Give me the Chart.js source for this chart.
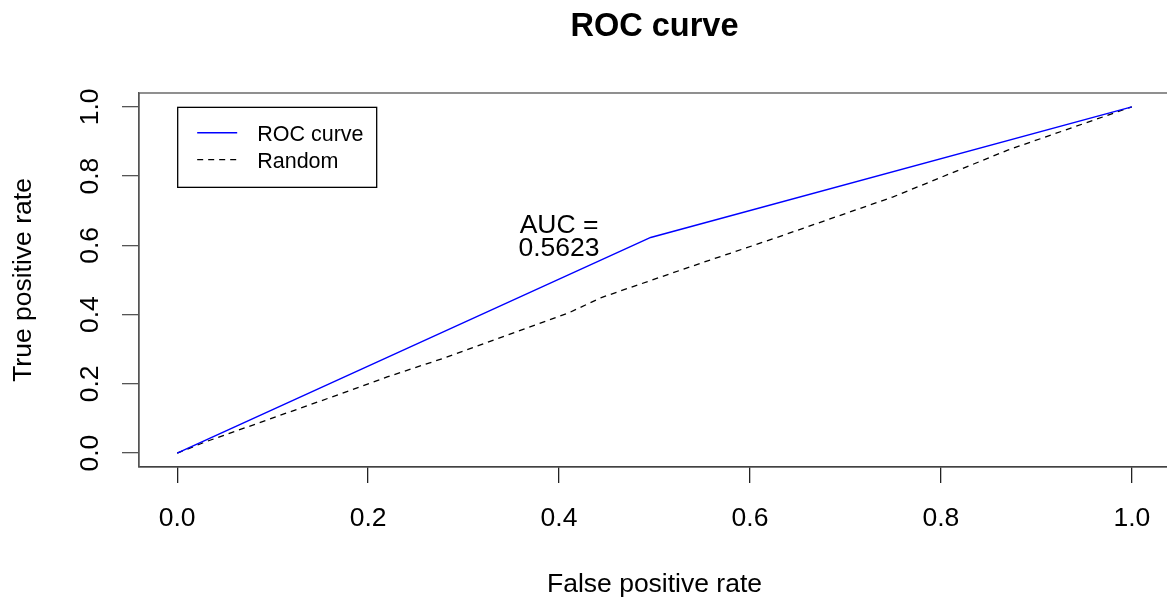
<!DOCTYPE html>
<html>
<head>
<meta charset="utf-8">
<script src="https://cdn.jsdelivr.net/npm/chart.js@4.4.1/dist/chart.umd.min.js"></script>
<style>
html,body{margin:0;padding:0;background:#fff;overflow:hidden;}
#wrap{width:1175px;height:601px;}
</style>
</head>
<body>
<div id="wrap"><canvas id="c" width="1175" height="601"></canvas></div>
<script>
// ---- data ----
const rocFpr = [0, 0.496, 1];
const rocTpr = [0, 0.623, 1];
const randFpr = [0, 0.03, 0.17, 0.22, 0.28, 0.41, 0.445, 0.55, 0.62, 0.75, 0.87, 1];
const randTpr = [0, 0.033, 0.17, 0.22, 0.275, 0.405, 0.45, 0.55, 0.615, 0.74, 0.875, 1];
const tickValues = [0, 0.2, 0.4, 0.6, 0.8, 1.0];
const aucLines = ['AUC =', '0.5623'];
const aucPos = [0.4, 0.6];
const seriesLabels = ['ROC curve', 'Random'];

const FONT = '"Liberation Sans", Arial, Helvetica, sans-serif';

const boxPlugin = {
  id: 'boxPlugin',
  afterDraw(chart) {
    const {ctx, chartArea: a, scales: {x, y}} = chart;
    ctx.save();
    // plot box
    ctx.strokeStyle = '#555';
    ctx.lineWidth = 1.3;
    ctx.strokeRect(a.left, a.top, a.right - a.left, a.bottom - a.top);
    // AUC annotation
    ctx.fillStyle = '#000';
    ctx.font = '26.5px ' + FONT;
    ctx.textAlign = 'center';
    ctx.textBaseline = 'alphabetic';
    const cx = x.getPixelForValue(aucPos[0]);
    const cy = y.getPixelForValue(aucPos[1]);
    ctx.fillText(aucLines[0], cx, cy - 12.5);
    ctx.fillText(aucLines[1], cx, cy + 10.8);
    // legend
    const lx = x.getPixelForValue(0), ly = y.getPixelForValue(1);
    ctx.strokeStyle = '#000';
    ctx.lineWidth = 1.3;
    ctx.strokeRect(lx + 0.5, ly + 0.5, 199, 80);
    ctx.font = '21.5px ' + FONT;
    ctx.textAlign = 'left';
    chart.data.datasets.forEach((ds, i) => {
      const rowY = ly + 26 + i * 26.8;
      ctx.beginPath();
      ctx.strokeStyle = ds.borderColor;
      ctx.lineWidth = ds.borderWidth;
      ctx.setLineDash(ds.borderDash || []);
      ctx.moveTo(lx + 20, rowY);
      ctx.lineTo(lx + 60, rowY);
      ctx.stroke();
      ctx.setLineDash([]);
      ctx.fillStyle = '#000';
      ctx.fillText(ds.label, lx + 80, rowY + 8.5);
    });
    ctx.restore();
  }
};

new Chart(document.getElementById('c'), {
  type: 'scatter',
  data: {
    datasets: [
      {
        label: seriesLabels[0],
        data: rocFpr.map((v, i) => ({x: v, y: rocTpr[i]})),
        showLine: true, borderColor: '#0000ff', borderWidth: 1.5,
        pointRadius: 0, fill: false, tension: 0
      },
      {
        label: seriesLabels[1],
        data: randFpr.map((v, i) => ({x: v, y: randTpr[i]})),
        showLine: true, borderColor: '#000000', borderWidth: 1.3,
        borderDash: [6, 5], pointRadius: 0, fill: false, tension: 0
      }
    ]
  },
  options: {
    responsive: false,
    animation: false,
    layout: {padding: {left: 0, right: 5, top: 0, bottom: 0}},
    plugins: {
      legend: {display: false},
      tooltip: {enabled: false},
      title: {
        display: true, text: 'ROC curve', fullSize: false,
        color: '#000',
        font: {family: FONT, size: 32.5, weight: 'bold', lineHeight: 1.2},
        padding: {top: 8, bottom: 46}
      }
    },
    scales: {
      x: {
        type: 'linear', min: -0.04, max: 1.04,
        afterBuildTicks: s => { s.ticks = tickValues.map(v => ({value: v})); },
        afterFit: s => { s.height = 134; },
        grid: {drawOnChartArea: false, drawTicks: true, tickLength: 16, color: '#222', lineWidth: 1.3},
        border: {display: true, color: '#222', width: 1.3},
        ticks: {
          color: '#000', padding: 20, maxRotation: 0, autoSkip: false,
          font: {family: FONT, size: 26.5, lineHeight: 1.2},
          callback: v => Number(v).toFixed(1)
        },
        title: {
          display: true, text: 'False positive rate', color: '#000',
          font: {family: FONT, size: 26.5, lineHeight: 1.2},
          padding: {top: 0, bottom: 0}
        }
      },
      y: {
        type: 'linear', min: -0.04, max: 1.04,
        afterBuildTicks: s => { s.ticks = tickValues.map(v => ({value: v})); },
        afterFit: s => { s.width = 139; },
        grid: {drawOnChartArea: false, drawTicks: true, tickLength: 17, color: '#555', lineWidth: 1.3},
        border: {display: true, color: '#555', width: 1.3},
        ticks: {
          color: '#000', padding: 13, minRotation: 90, maxRotation: 90,
          crossAlign: 'center', autoSkip: false,
          font: {family: FONT, size: 26.5, lineHeight: 1.2},
          callback: v => Number(v).toFixed(1)
        },
        title: {
          display: true, text: 'True positive rate', color: '#000',
          font: {family: FONT, size: 26.5, lineHeight: 1.2},
          padding: {top: 8, bottom: 0}
        }
      }
    }
  },
  plugins: [boxPlugin]
});
</script>
</body>
</html>
